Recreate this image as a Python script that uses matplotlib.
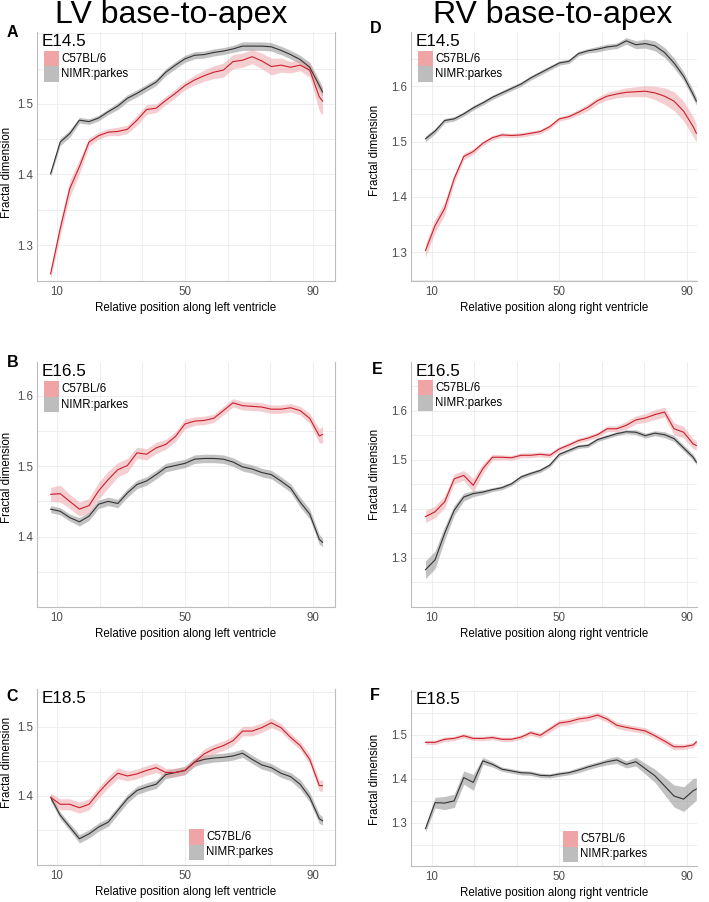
import matplotlib
matplotlib.use('Agg')
import matplotlib.pyplot as plt
import numpy as np
from matplotlib.patches import Rectangle

plt.rcParams['font.family'] = ['Liberation Sans', 'DejaVu Sans']

W, H = 709, 902

# relative position along the ventricle (sampled)
pos = [8, 11, 14, 17, 20, 23, 26, 29, 32, 35, 38, 41, 44, 47, 50,
       53, 56, 59, 62, 65, 68, 71, 74, 77, 80, 83, 86, 89, 92, 93]

# LV E14.5
lv145_c57 = [1.259, 1.323, 1.380, 1.411, 1.446, 1.455, 1.460, 1.461, 1.464, 1.477,
             1.492, 1.494, 1.505, 1.515, 1.526, 1.534, 1.540, 1.545, 1.548, 1.560,
             1.562, 1.567, 1.561, 1.553, 1.555, 1.552, 1.555, 1.548, 1.510, 1.504]
lv145_c57_se = [0.007, 0.010, 0.012, 0.010, 0.006, 0.005, 0.005, 0.006, 0.006, 0.007,
                0.007, 0.006, 0.006, 0.006, 0.006, 0.007, 0.008, 0.009, 0.010, 0.010,
                0.010, 0.010, 0.011, 0.012, 0.010, 0.008, 0.008, 0.010, 0.020, 0.020]
lv145_nimr = [1.401, 1.446, 1.458, 1.477, 1.475, 1.480, 1.489, 1.497, 1.508, 1.515,
              1.523, 1.531, 1.545, 1.555, 1.564, 1.569, 1.570, 1.573, 1.575, 1.578,
              1.582, 1.582, 1.582, 1.581, 1.576, 1.570, 1.563, 1.552, 1.526, 1.517]
lv145_nimr_se = [0.004, 0.005, 0.005, 0.004, 0.004, 0.004, 0.004, 0.005, 0.005, 0.005,
                 0.005, 0.005, 0.005, 0.005, 0.005, 0.005, 0.005, 0.005, 0.005, 0.005,
                 0.006, 0.006, 0.006, 0.006, 0.006, 0.006, 0.006, 0.007, 0.007, 0.006]

# RV E14.5
rv145_c57 = [1.303, 1.348, 1.379, 1.433, 1.473, 1.482, 1.497, 1.507, 1.512, 1.511,
             1.512, 1.515, 1.518, 1.527, 1.541, 1.545, 1.553, 1.562, 1.574, 1.582,
             1.586, 1.589, 1.590, 1.591, 1.588, 1.582, 1.573, 1.555, 1.527, 1.515]
rv145_c57_se = [0.012, 0.012, 0.012, 0.008, 0.006, 0.005, 0.004, 0.004, 0.004, 0.004,
                0.004, 0.004, 0.004, 0.004, 0.004, 0.004, 0.005, 0.006, 0.006, 0.007,
                0.007, 0.008, 0.009, 0.010, 0.012, 0.015, 0.017, 0.018, 0.018, 0.016]
rv145_nimr = [1.505, 1.519, 1.538, 1.541, 1.550, 1.561, 1.570, 1.580, 1.588, 1.596,
              1.604, 1.615, 1.624, 1.633, 1.642, 1.645, 1.659, 1.664, 1.667, 1.671,
              1.673, 1.682, 1.675, 1.677, 1.673, 1.661, 1.642, 1.618, 1.585, 1.573]
rv145_nimr_se = [0.005, 0.005, 0.004, 0.004, 0.004, 0.004, 0.004, 0.004, 0.004, 0.004,
                 0.004, 0.004, 0.004, 0.004, 0.004, 0.004, 0.004, 0.004, 0.005, 0.005,
                 0.005, 0.006, 0.007, 0.008, 0.009, 0.009, 0.009, 0.008, 0.008, 0.007]

# LV E16.5
lv165_c57 = [1.460, 1.461, 1.450, 1.439, 1.444, 1.465, 1.481, 1.495, 1.501, 1.519,
             1.517, 1.526, 1.531, 1.542, 1.560, 1.564, 1.565, 1.568, 1.579, 1.590,
             1.586, 1.585, 1.584, 1.581, 1.581, 1.583, 1.579, 1.568, 1.543, 1.545]
lv165_c57_se = [0.010, 0.012, 0.010, 0.010, 0.010, 0.012, 0.012, 0.010, 0.010, 0.008,
                0.008, 0.008, 0.007, 0.007, 0.007, 0.006, 0.006, 0.006, 0.006, 0.006,
                0.006, 0.006, 0.006, 0.006, 0.006, 0.006, 0.006, 0.007, 0.010, 0.012]
lv165_nimr = [1.439, 1.436, 1.427, 1.421, 1.429, 1.446, 1.450, 1.447, 1.462, 1.474,
              1.479, 1.488, 1.498, 1.501, 1.504, 1.510, 1.511, 1.511, 1.510, 1.506,
              1.499, 1.496, 1.491, 1.488, 1.479, 1.469, 1.449, 1.432, 1.396, 1.392]
lv165_nimr_se = [0.005, 0.005, 0.005, 0.006, 0.006, 0.006, 0.006, 0.006, 0.006, 0.006,
                 0.006, 0.006, 0.006, 0.006, 0.006, 0.006, 0.006, 0.006, 0.006, 0.006,
                 0.006, 0.006, 0.006, 0.006, 0.006, 0.006, 0.007, 0.007, 0.007, 0.006]

# RV E16.5
rv165_c57 = [1.384, 1.394, 1.414, 1.461, 1.468, 1.448, 1.482, 1.505, 1.505, 1.504,
             1.509, 1.509, 1.511, 1.509, 1.522, 1.530, 1.539, 1.544, 1.551, 1.563,
             1.563, 1.570, 1.581, 1.585, 1.592, 1.597, 1.563, 1.556, 1.532, 1.529]
rv165_c57_se = [0.012, 0.012, 0.012, 0.010, 0.010, 0.014, 0.010, 0.006, 0.005, 0.005,
                0.005, 0.005, 0.005, 0.005, 0.005, 0.005, 0.005, 0.005, 0.005, 0.006,
                0.006, 0.008, 0.008, 0.009, 0.010, 0.010, 0.012, 0.012, 0.010, 0.010]
rv165_nimr = [1.276, 1.296, 1.350, 1.397, 1.424, 1.431, 1.434, 1.439, 1.443, 1.451,
              1.465, 1.472, 1.478, 1.489, 1.511, 1.519, 1.527, 1.529, 1.541, 1.547,
              1.553, 1.557, 1.556, 1.549, 1.554, 1.551, 1.543, 1.524, 1.505, 1.495]
rv165_nimr_se = [0.018, 0.018, 0.014, 0.010, 0.008, 0.006, 0.005, 0.004, 0.004, 0.004,
                 0.004, 0.004, 0.004, 0.004, 0.004, 0.004, 0.004, 0.004, 0.004, 0.004,
                 0.004, 0.004, 0.005, 0.005, 0.005, 0.006, 0.006, 0.006, 0.006, 0.005]

# LV E18.5
lv185_c57 = [1.398, 1.388, 1.388, 1.383, 1.388, 1.405, 1.420, 1.433, 1.429, 1.432,
             1.437, 1.441, 1.434, 1.434, 1.437, 1.449, 1.461, 1.468, 1.473, 1.480,
             1.494, 1.494, 1.499, 1.506, 1.499, 1.485, 1.473, 1.453, 1.415, 1.415]
lv185_c57_se = [0.006, 0.008, 0.008, 0.008, 0.008, 0.008, 0.008, 0.008, 0.007, 0.007,
                0.007, 0.007, 0.006, 0.006, 0.006, 0.006, 0.007, 0.007, 0.007, 0.007,
                0.007, 0.007, 0.007, 0.007, 0.006, 0.006, 0.006, 0.007, 0.008, 0.008]
lv185_nimr = [1.398, 1.372, 1.355, 1.338, 1.345, 1.355, 1.362, 1.379, 1.396, 1.408,
              1.413, 1.417, 1.431, 1.434, 1.437, 1.449, 1.453, 1.455, 1.456, 1.458,
              1.462, 1.453, 1.445, 1.441, 1.433, 1.428, 1.417, 1.398, 1.367, 1.364]
lv185_nimr_se = [0.005, 0.005, 0.005, 0.006, 0.006, 0.006, 0.006, 0.006, 0.006, 0.006,
                 0.006, 0.006, 0.006, 0.006, 0.006, 0.006, 0.006, 0.006, 0.006, 0.006,
                 0.006, 0.006, 0.006, 0.006, 0.006, 0.006, 0.007, 0.007, 0.007, 0.006]

# RV E18.5
rv185_c57 = [1.483, 1.483, 1.490, 1.492, 1.498, 1.492, 1.492, 1.494, 1.490, 1.490,
             1.495, 1.505, 1.499, 1.513, 1.527, 1.530, 1.536, 1.539, 1.545, 1.536,
             1.522, 1.517, 1.513, 1.509, 1.498, 1.486, 1.473, 1.473, 1.477, 1.484]
rv185_c57_se = [0.005, 0.005, 0.005, 0.005, 0.005, 0.005, 0.005, 0.005, 0.005, 0.005,
                0.005, 0.006, 0.006, 0.007, 0.007, 0.007, 0.007, 0.007, 0.007, 0.007,
                0.007, 0.007, 0.007, 0.007, 0.007, 0.007, 0.007, 0.006, 0.006, 0.006]
rv185_nimr = [1.287, 1.346, 1.345, 1.350, 1.403, 1.392, 1.441, 1.433, 1.422, 1.418,
              1.414, 1.413, 1.408, 1.407, 1.411, 1.414, 1.420, 1.427, 1.433, 1.439,
              1.443, 1.433, 1.439, 1.423, 1.407, 1.384, 1.361, 1.354, 1.373, 1.377]
rv185_nimr_se = [0.008, 0.012, 0.015, 0.015, 0.015, 0.018, 0.008, 0.006, 0.005, 0.005,
                 0.005, 0.005, 0.005, 0.005, 0.005, 0.005, 0.006, 0.006, 0.006, 0.007,
                 0.008, 0.008, 0.010, 0.012, 0.015, 0.020, 0.025, 0.028, 0.028, 0.025]

x_major = [10, 50, 90]
x_minor = [23.33, 36.67, 63.33, 76.67]

RED = '#cc1f2b'
RED_FILL = '#eb9fa2'
GREY = '#333333'
GREY_FILL = '#9a9a9a'
KEY_RED = '#efa4a6'
KEY_GREY = '#bdbdbd'


def fig_box(l, t, r, b):
    return [l / W, 1 - b / H, (r - l) / W, (b - t) / H]


def px_text(fig, x, y, s, **kw):
    fig.text(x / W, 1 - y / H, s, **kw)


def draw_panel(fig, box, c57, c57_se, nimr, nimr_se, xlim, ylim,
               ylabels, ygrid, stage, letter, side, legend_top, ylab_y,
               ylab_dx, right_spine=True):
    l, t, r, b = box
    ax = fig.add_axes(fig_box(l, t, r, b))
    x = np.array(pos)
    for m, se, line_c, fill_c, a in [(nimr, nimr_se, GREY, GREY_FILL, 0.6),
                                      (c57, c57_se, RED, RED_FILL, 0.5)]:
        m = np.array(m)
        se = np.array(se)
        ax.fill_between(x, m - se, m + se, color=fill_c, alpha=a, lw=0)
        ax.plot(x, m, color=line_c, lw=0.8)
    ax.set_xlim(xlim)
    ax.set_ylim(ylim)
    ax.set_xticks(x_major)
    ax.set_xticklabels([str(v) for v in x_major])
    ax.set_xticks(x_minor, minor=True)
    ax.set_yticks(ylabels)
    ax.set_yticklabels(['%.1f' % v for v in ylabels])
    ax.set_yticks([v for v in ygrid if v not in ylabels], minor=True)
    ax.grid(True, which='both', color='#ebebeb', lw=0.6)
    ax.set_axisbelow(True)
    ax.tick_params(which='both', length=0, labelsize=8.3, labelcolor='#4d4d4d')
    ax.tick_params(axis='x', pad=3.5)
    ax.tick_params(axis='y', pad=3)
    for s in ['left', 'bottom', 'right']:
        ax.spines[s].set_color('#bdbdbd')
        ax.spines[s].set_linewidth(0.8)
    ax.spines['top'].set_visible(False)
    if not right_spine:
        ax.spines['right'].set_visible(False)
    ax.set_xlabel('Relative position along %s ventricle' % side, fontsize=8.3)
    ax.xaxis.set_label_coords(0.5, -21 / (b - t))
    ax.set_ylabel('Fractal dimension', fontsize=8.3)
    ax.yaxis.set_label_coords(ylab_dx / (r - l), ylab_y)

    # stage annotation and panel letter
    px_text(fig, l + 5, t + 14, stage, fontsize=12.3, va='baseline')
    px_text(fig, letter[1], letter[2], letter[0], fontsize=11.5,
            fontweight='bold', va='baseline')

    # legend keys
    kx, ky = legend_top
    for i, (c, lab) in enumerate([(KEY_RED, 'C57BL/6'), (KEY_GREY, 'NIMR:parkes')]):
        y0 = ky + i * 15.5
        fig.add_artist(Rectangle((kx / W, 1 - (y0 + 15.5) / H), 15 / W, 15.5 / H,
                                 transform=fig.transFigure, color=c, lw=0))
        px_text(fig, kx + 17, y0 + 8, lab, fontsize=8.3, va='center')
    return ax


fig = plt.figure(figsize=(W / 100, H / 100), dpi=100)

px_text(fig, 171.5, 23, 'LV base-to-apex', fontsize=23, ha='center', va='baseline')
px_text(fig, 553, 23, 'RV base-to-apex', fontsize=23, ha='center', va='baseline')

lx = (3.75, 96.9)
rx = (3.45, 93.2)

draw_panel(fig, (37, 32, 335, 281), lv145_c57, lv145_c57_se, lv145_nimr, lv145_nimr_se,
           lx, (1.249, 1.602), [1.3, 1.4, 1.5], [1.3, 1.35, 1.4, 1.45, 1.5, 1.55, 1.6],
           'E14.5', ('A', 7, 37), 'left', (44, 51), 0.434, -24)
draw_panel(fig, (37, 362, 335, 607), lv165_c57, lv165_c57_se, lv165_nimr, lv165_nimr_se,
           lx, (1.30, 1.648), [1.4, 1.5, 1.6], [1.35, 1.4, 1.45, 1.5, 1.55, 1.6],
           'E16.5', ('B', 7, 367), 'left', (44, 381), 0.527, -24)
draw_panel(fig, (37, 689, 335, 865), lv185_c57, lv185_c57_se, lv185_nimr, lv185_nimr_se,
           lx, (1.30, 1.555), [1.4, 1.5], [1.35, 1.4, 1.45, 1.5, 1.55],
           'E18.5', ('C', 6, 701), 'left', (189, 829), 0.58, -24)
draw_panel(fig, (411, 32, 697, 281), rv145_c57, rv145_c57_se, rv145_nimr, rv145_nimr_se,
           rx, (1.248, 1.698), [1.3, 1.4, 1.5, 1.6],
           [1.25, 1.3, 1.35, 1.4, 1.45, 1.5, 1.55, 1.6, 1.65],
           'E14.5', ('D', 370, 33), 'right', (418, 51), 0.526, -30, right_spine=False)
draw_panel(fig, (411, 362, 697, 607), rv165_c57, rv165_c57_se, rv165_nimr, rv165_nimr_se,
           rx, (1.20, 1.699), [1.3, 1.4, 1.5, 1.6],
           [1.25, 1.3, 1.35, 1.4, 1.45, 1.5, 1.55, 1.6, 1.65],
           'E16.5', ('E', 372, 374), 'right', (418, 380), 0.543, -30, right_spine=False)
draw_panel(fig, (411, 690, 697, 866), rv185_c57, rv185_c57_se, rv185_nimr, rv185_nimr_se,
           rx, (1.202, 1.602), [1.3, 1.4, 1.5],
           [1.25, 1.3, 1.35, 1.4, 1.45, 1.5, 1.55, 1.6],
           'E18.5', ('F', 370, 700), 'right', (563, 831), 0.49, -30, right_spine=False)

fig.savefig('out.png', dpi=100)
